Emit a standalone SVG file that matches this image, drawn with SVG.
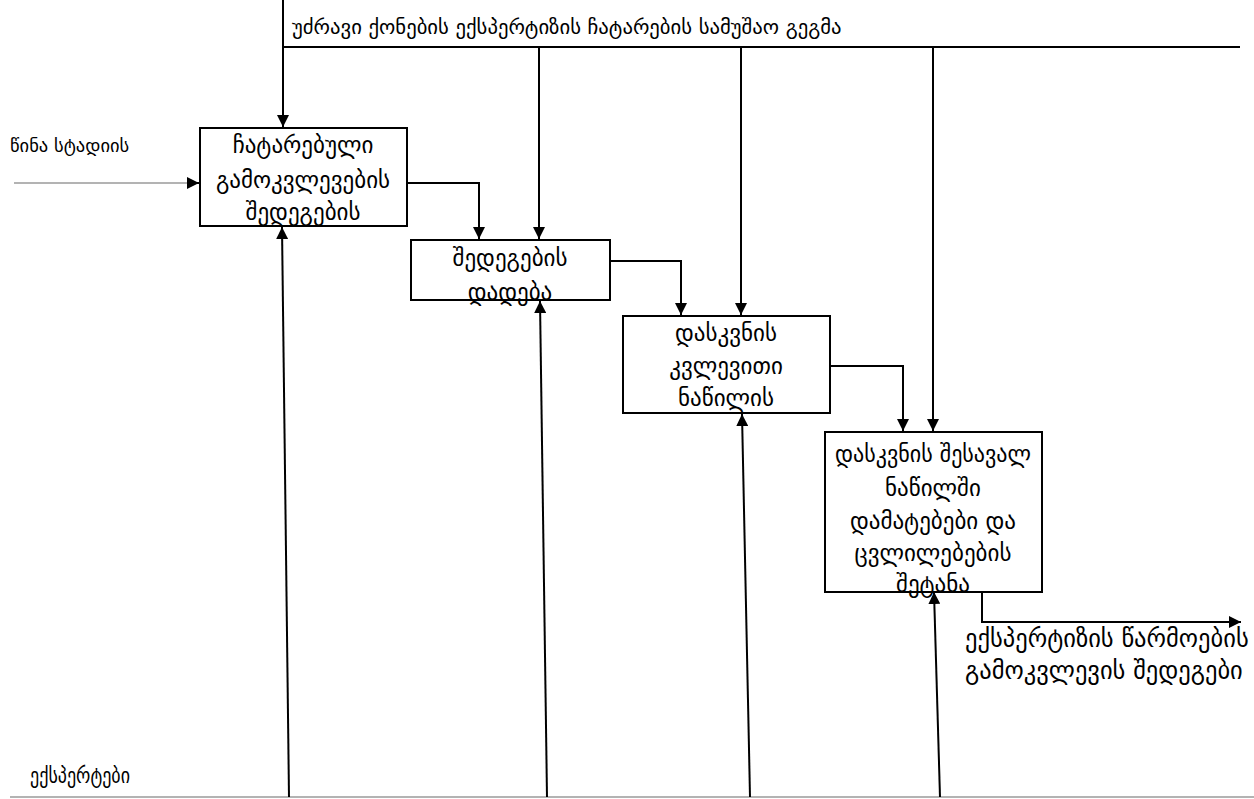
<svg xmlns="http://www.w3.org/2000/svg" width="1254" height="799" viewBox="0 0 1254 799">
  <style>
    .box { fill: #ffffff; stroke: #000000; stroke-width: 2; }
    .conn { fill: none; stroke: #000000; stroke-width: 2; }
    .thin { fill: none; stroke: #9a9a9a; stroke-width: 1.5; }
    text { font-family: "DejaVu Sans", "Noto Sans", sans-serif; font-size: 23px; fill: #000000; }
    .c { text-anchor: middle; }
    .title { font-size: 20.7px; }
    .input { font-size: 18.5px; }
    .output { font-size: 24.5px; }
    .mech { font-size: 22px; }
  </style>
  <defs>
    <marker id="arrow" viewBox="0 0 10 10" refX="10" refY="5" markerWidth="12" markerHeight="12" markerUnits="userSpaceOnUse" orient="auto">
      <path d="M0,0 L10,5 L0,10 Z" fill="#000000"/>
    </marker>
  </defs>

  <rect width="1254" height="799" fill="#ffffff"/>

  <g id="connectors">
    <!-- control bar across the top -->
    <line class="conn" x1="283" y1="0" x2="283" y2="47"/>
    <line class="conn" x1="283" y1="47" x2="1240" y2="47"/>
    <line class="conn" x1="283" y1="47" x2="283" y2="127" marker-end="url(#arrow)"/>
    <line class="conn" x1="539" y1="47" x2="539" y2="239" marker-end="url(#arrow)"/>
    <line class="conn" x1="741" y1="47" x2="741" y2="315" marker-end="url(#arrow)"/>
    <line class="conn" x1="933" y1="47" x2="933" y2="431" marker-end="url(#arrow)"/>

    <!-- input -->
    <line class="thin" x1="14" y1="183" x2="189" y2="183"/>
    <line class="conn" x1="188" y1="183" x2="199" y2="183" marker-end="url(#arrow)"/>

    <!-- step to step -->
    <polyline class="conn" points="407,183 479,183 479,239" marker-end="url(#arrow)"/>
    <polyline class="conn" points="610,261 681,261 681,315" marker-end="url(#arrow)"/>
    <polyline class="conn" points="830,366 903,366 903,431" marker-end="url(#arrow)"/>

    <!-- output -->
    <polyline class="conn" points="982,593 982,622 1241,622" marker-end="url(#arrow)"/>

    <!-- mechanism bar along the bottom -->
    <line class="thin" x1="10" y1="797" x2="1254" y2="797"/>
    <line class="conn" x1="289" y1="797" x2="282" y2="227" marker-end="url(#arrow)"/>
    <line class="conn" x1="547" y1="797" x2="540" y2="301" marker-end="url(#arrow)"/>
    <line class="conn" x1="750" y1="797" x2="742" y2="414" marker-end="url(#arrow)"/>
    <line class="conn" x1="940" y1="797" x2="934" y2="592" marker-end="url(#arrow)"/>
  </g>

  <g id="node-1">
    <rect class="box" x="200" y="128" width="207" height="98"/>
    <text class="c" x="303" y="153">ჩატარებული</text>
    <text class="c" x="303" y="188">გამოკვლევების</text>
    <text class="c" x="303" y="220">შედეგების</text>
  </g>

  <g id="node-2">
    <rect class="box" x="411" y="240" width="199" height="60"/>
    <text class="c" x="510" y="266">შედეგების</text>
    <text class="c" x="510" y="300">დადება</text>
  </g>

  <g id="node-3">
    <rect class="box" x="623" y="316" width="207" height="97"/>
    <text class="c" x="726" y="341">დასკვნის</text>
    <text class="c" x="726" y="374">კვლევითი</text>
    <text class="c" x="726" y="406">ნაწილის</text>
  </g>

  <g id="node-4">
    <rect class="box" x="825" y="432" width="217" height="160"/>
    <text class="c" x="933" y="462" textLength="196" lengthAdjust="spacingAndGlyphs">დასკვნის შესავალ</text>
    <text class="c" x="933" y="496">ნაწილში</text>
    <text class="c" x="933" y="529">დამატებები და</text>
    <text class="c" x="933" y="561">ცვლილებების</text>
    <text class="c" x="933" y="592">შეტანა</text>
  </g>

  <g id="labels">
    <text class="title" x="292" y="34">უძრავი ქონების ექსპერტიზის  ჩატარების სამუშაო გეგმა</text>
    <text class="input" x="10" y="152">წინა სტადიის</text>
    <text class="output" x="965" y="647">ექსპერტიზის წარმოების</text>
    <text class="output" x="965" y="679">გამოკვლევის შედეგები</text>
    <text class="mech" x="30" y="783" textLength="100" lengthAdjust="spacingAndGlyphs">ექსპერტები</text>
  </g>
</svg>
